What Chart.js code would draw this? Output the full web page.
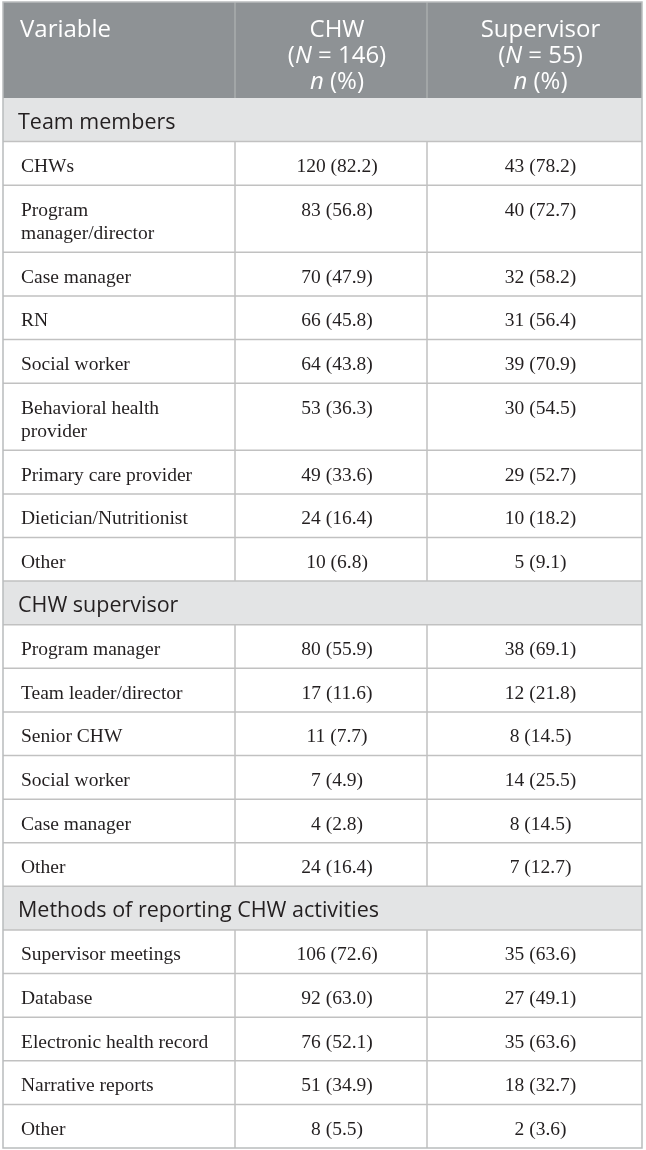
<!DOCTYPE html>
<html>
<head>
<meta charset="utf-8">
<title>CHW team members, supervisors and reporting methods</title>
<script src="https://cdn.jsdelivr.net/npm/chart.js@4.4.1/dist/chart.umd.min.js"></script>
<style>
  html, body { margin: 0; padding: 0; background: #fff; }
  #table { display: block; }
</style>
</head>
<body>
<canvas id="table" width="646" height="1150"></canvas>
<script>
//
// Data
//

var headers = ['Variable', 'CHW\n(N = 146)\nn (%)', 'Supervisor\n(N = 55)\nn (%)'];
var sections = ['Team members', 'CHW supervisor', 'Methods of reporting CHW activities'];

var teamLabels = ['CHWs', 'Program\nmanager/director', 'Case manager', 'RN', 'Social worker',
  'Behavioral health\nprovider', 'Primary care provider', 'Dietician/Nutritionist', 'Other'];
var teamChwN = [120, 83, 70, 66, 64, 53, 49, 24, 10];
var teamChwPct = [82.2, 56.8, 47.9, 45.8, 43.8, 36.3, 33.6, 16.4, 6.8];
var teamSupN = [43, 40, 32, 31, 39, 30, 29, 10, 5];
var teamSupPct = [78.2, 72.7, 58.2, 56.4, 70.9, 54.5, 52.7, 18.2, 9.1];

var supLabels = ['Program manager', 'Team leader/director', 'Senior CHW', 'Social worker', 'Case manager', 'Other'];
var supChwN = [80, 17, 11, 7, 4, 24];
var supChwPct = [55.9, 11.6, 7.7, 4.9, 2.8, 16.4];
var supSupN = [38, 12, 8, 14, 8, 7];
var supSupPct = [69.1, 21.8, 14.5, 25.5, 14.5, 12.7];

var repLabels = ['Supervisor meetings', 'Database', 'Electronic health record', 'Narrative reports', 'Other'];
var repChwN = [106, 92, 76, 51, 8];
var repChwPct = [72.6, 63.0, 52.1, 34.9, 5.5];
var repSupN = [35, 27, 35, 18, 2];
var repSupPct = [63.6, 49.1, 63.6, 32.7, 3.6];

//
// Layout (table units, mapped through the chart scales)
//

var COLS = [0, 232, 424, 639];
var HEAD_H = 96, ROW_H = 43.6, EXTRA_LINE = 23.5;
var TEXT_PAD = 18, BASELINE = 30.5, VALUE_SHIFT = 6;
var HEAD_BASE = 35, HEAD_LINE = 26;

var groups = [
  { title: sections[0], labels: teamLabels, chwN: teamChwN, chwPct: teamChwPct, supN: teamSupN, supPct: teamSupPct },
  { title: sections[1], labels: supLabels, chwN: supChwN, chwPct: supChwPct, supN: supSupN, supPct: supSupPct },
  { title: sections[2], labels: repLabels, chwN: repChwN, chwPct: repChwPct, supN: repSupN, supPct: repSupPct }
];

function fmt(n, pct) {
  return n + ' (' + pct.toFixed(1) + ')';
}

var rows = [];
var y = HEAD_H;
groups.forEach(function (g) {
  rows.push({ type: 'section', text: g.title, top: y, h: ROW_H });
  y += ROW_H;
  g.labels.forEach(function (label, i) {
    var lines = label.split('\n');
    var h = ROW_H + EXTRA_LINE * (lines.length - 1);
    rows.push({ type: 'item', lines: lines, chw: fmt(g.chwN[i], g.chwPct[i]), sup: fmt(g.supN[i], g.supPct[i]), top: y, h: h });
    y += h;
  });
});
var TOTAL = y;

var items = rows.filter(function (r) { return r.type === 'item'; });
var chwPoints = items.map(function (r) { return { x: (COLS[1] + COLS[2]) / 2 + VALUE_SHIFT, y: r.top + BASELINE }; });
var supPoints = items.map(function (r) { return { x: (COLS[2] + COLS[3]) / 2 + VALUE_SHIFT, y: r.top + BASELINE }; });

//
// Drawing
//

var SERIF = '19.5px "Liberation Serif", "DejaVu Serif", serif';
var SANS_SECTION = '21.5px "Open Sans", "Noto Sans", sans-serif';
var SANS_HEAD = '24px "Open Sans", "Noto Sans", sans-serif';
var SANS_HEAD_I = 'italic 24px "Open Sans", "Noto Sans", sans-serif';

function drawRich(ctx, text, cx, baseY) {
  // italic for the single letters N and n
  var parts = text.split(/(\bN\b|\bn\b)/).filter(function (p) { return p.length; });
  var widths = parts.map(function (p) {
    ctx.font = /^[Nn]$/.test(p) ? SANS_HEAD_I : SANS_HEAD;
    return ctx.measureText(p).width;
  });
  var total = widths.reduce(function (a, b) { return a + b; }, 0);
  var x = cx - total / 2;
  ctx.textAlign = 'left';
  parts.forEach(function (p, i) {
    ctx.font = /^[Nn]$/.test(p) ? SANS_HEAD_I : SANS_HEAD;
    ctx.fillText(p, x, baseY);
    x += widths[i];
  });
}

var tablePlugin = {
  id: 'tableCells',
  afterDraw: function (chart) {
    var ctx = chart.ctx;
    var xs = chart.scales.x, ys = chart.scales.y;
    var px = function (v) { return xs.getPixelForValue(v); };
    var py = function (v) { return ys.getPixelForValue(v); };
    var left = px(COLS[0]), right = px(COLS[3]);

    ctx.save();
    ctx.textBaseline = 'alphabetic';

    // header
    ctx.fillStyle = '#8e9295';
    ctx.fillRect(left, py(0), right - left, py(HEAD_H) - py(0));
    ctx.strokeStyle = '#a9acae';
    ctx.lineWidth = 1.5;
    [COLS[1], COLS[2]].forEach(function (c) {
      ctx.beginPath();
      ctx.moveTo(px(c), py(0));
      ctx.lineTo(px(c), py(HEAD_H));
      ctx.stroke();
    });
    ctx.fillStyle = '#ffffff';
    ctx.font = SANS_HEAD;
    ctx.textAlign = 'left';
    ctx.fillText(headers[0], px(COLS[0] + TEXT_PAD - 1), py(HEAD_BASE));
    [1, 2].forEach(function (c) {
      var cx = px((COLS[c] + COLS[c + 1]) / 2 + VALUE_SHIFT);
      headers[c].split('\n').forEach(function (line, k) {
        drawRich(ctx, line, cx, py(HEAD_BASE + HEAD_LINE * k));
      });
    });

    // body rows
    rows.forEach(function (r) {
      var top = py(r.top), bot = py(r.top + r.h);
      if (r.type === 'section') {
        ctx.fillStyle = '#e3e4e5';
        ctx.fillRect(left, top, right - left, bot - top);
        ctx.fillStyle = '#231f20';
        ctx.font = SANS_SECTION;
        ctx.textAlign = 'left';
        ctx.fillText(r.text, px(COLS[0] + TEXT_PAD - 3), py(r.top + BASELINE));
      } else {
        ctx.strokeStyle = '#c1c1c1';
        ctx.lineWidth = 1.5;
        [COLS[1], COLS[2]].forEach(function (c) {
          ctx.beginPath();
          ctx.moveTo(px(c), top);
          ctx.lineTo(px(c), bot);
          ctx.stroke();
        });
        ctx.fillStyle = '#231f20';
        ctx.font = SERIF;
        ctx.textAlign = 'left';
        r.lines.forEach(function (line, k) {
          ctx.fillText(line, px(COLS[0] + TEXT_PAD), py(r.top + BASELINE + EXTRA_LINE * k));
        });
      }
      if (r.top > HEAD_H) {
        ctx.strokeStyle = '#c1c1c1';
        ctx.lineWidth = 1.5;
        ctx.beginPath();
        ctx.moveTo(left, top);
        ctx.lineTo(right, top);
        ctx.stroke();
      }
    });

    // values, placed at the dataset points
    ctx.fillStyle = '#231f20';
    ctx.font = SERIF;
    ctx.textAlign = 'center';
    [0, 1].forEach(function (d) {
      var meta = chart.getDatasetMeta(d);
      meta.data.forEach(function (pt, i) {
        ctx.fillText(d === 0 ? items[i].chw : items[i].sup, pt.x, pt.y);
      });
    });

    // outer border
    ctx.strokeStyle = '#b9bcbd';
    ctx.lineWidth = 1.5;
    ctx.strokeRect(left, py(0), right - left, py(TOTAL) - py(0));
    ctx.restore();
  }
};

var tableChart = new Chart(document.getElementById('table'), {
  type: 'scatter',
  data: {
    datasets: [
      { label: 'CHW', data: chwPoints, pointRadius: 0 },
      { label: 'Supervisor', data: supPoints, pointRadius: 0 }
    ]
  },
  options: {
    responsive: false,
    animation: false,
    events: [],
    layout: { padding: { left: 3, right: 4, top: 2, bottom: 2 } },
    scales: {
      x: { type: 'linear', min: 0, max: COLS[3], display: false },
      y: { type: 'linear', min: 0, max: TOTAL, reverse: true, display: false }
    },
    plugins: { legend: { display: false }, tooltip: { enabled: false } }
  },
  plugins: [tablePlugin]
});
</script>
</body>
</html>
